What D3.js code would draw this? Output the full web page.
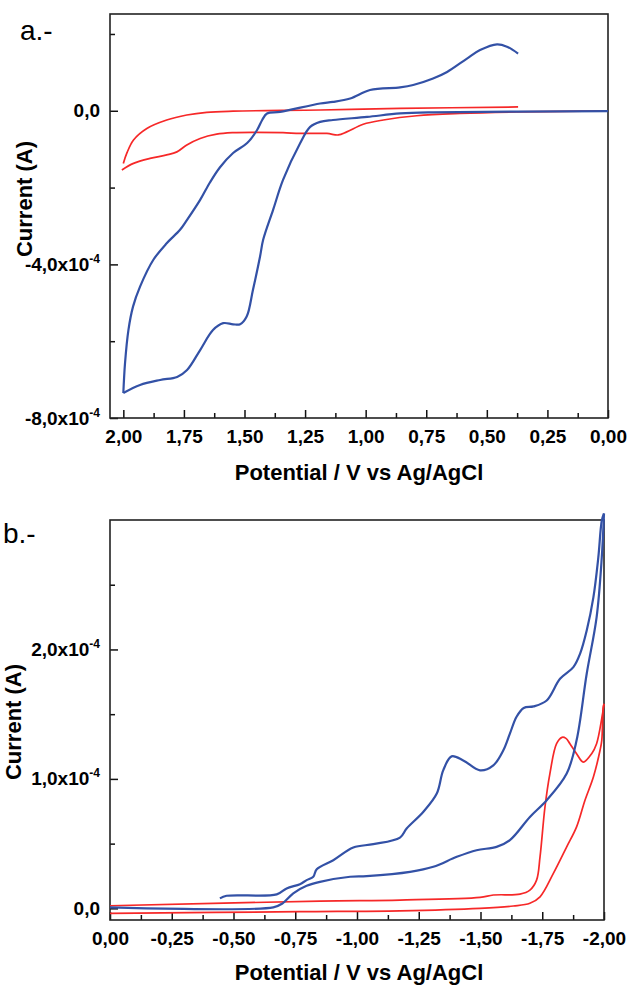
<!DOCTYPE html>
<html>
<head>
<meta charset="utf-8">
<script src="https://cdn.jsdelivr.net/npm/d3@7"></script>
<style>
  body { margin: 0; background: #fff; }
  text { font-family: "Liberation Sans", Arial, sans-serif; }
</style>
</head>
<body>
<script>
// currents are in units of 1e-4 A, potentials in V

// panel a: blue CV, forward scan (0 -> 2.0 V) then reverse (2.0 -> 0.37 V)
var aBlueFwd = [
  [0.000, -0.01], [0.722, -0.04], [0.858, -0.07], [0.994, -0.16], [1.135, -0.24],
  [1.188, -0.29], [1.229, -0.42], [1.271, -0.85], [1.341, -1.80], [1.382, -2.58],
  [1.423, -3.36], [1.436, -3.80], [1.465, -4.66], [1.491, -5.36], [1.518, -5.56],
  [1.547, -5.56], [1.588, -5.53], [1.630, -5.71], [1.683, -6.23], [1.737, -6.75],
  [1.778, -6.93], [1.848, -7.01], [1.931, -7.14], [2.000, -7.35]
]
var aBlueRev = [
  [2.000, -7.35], [1.993, -6.57], [1.979, -5.71], [1.960, -5.10], [1.931, -4.58],
  [1.876, -3.88], [1.821, -3.45], [1.766, -3.10], [1.737, -2.84], [1.683, -2.32],
  [1.642, -1.86], [1.601, -1.47], [1.547, -1.10], [1.489, -0.84], [1.448, -0.50],
  [1.427, -0.24], [1.407, -0.07], [1.353, -0.03], [1.188, 0.19], [1.135, 0.23],
  [1.064, 0.32], [0.982, 0.54], [0.858, 0.61], [0.804, 0.67], [0.722, 0.84],
  [0.664, 1.01], [0.582, 1.36], [0.528, 1.58], [0.458, 1.73], [0.417, 1.67],
  [0.371, 1.49]
]
// panel a: red CV
var aRedFwd = [
  [0.020, 0.00], [0.103, -0.01], [0.377, -0.03], [0.611, -0.07], [0.789, -0.13],
  [0.927, -0.24], [1.010, -0.35], [1.078, -0.55], [1.113, -0.63], [1.160, -0.59],
  [1.271, -0.59], [1.341, -0.57], [1.465, -0.56], [1.547, -0.57], [1.615, -0.61],
  [1.683, -0.72], [1.738, -0.89], [1.779, -1.07], [1.821, -1.15], [1.890, -1.24],
  [1.958, -1.37], [2.006, -1.54]
]
var aRedRev = [
  [2.000, -1.37], [1.986, -1.11], [1.958, -0.76], [1.903, -0.46], [1.821, -0.24],
  [1.738, -0.11], [1.656, -0.04], [1.547, -0.01], [1.188, 0.02], [0.858, 0.06],
  [0.371, 0.10]
]

// panel b: blue CV, forward (-0.45 -> -2.0 V) then reverse (-2.0 -> 0 V)
var bBlueFwd = [
  [-0.445, 0.077], [-0.472, 0.097], [-0.675, 0.108], [-0.715, 0.154], [-0.769, 0.187],
  [-0.796, 0.218], [-0.823, 0.244], [-0.837, 0.303], [-0.904, 0.372], [-0.985, 0.470],
  [-1.066, 0.496], [-1.174, 0.547], [-1.201, 0.617], [-1.268, 0.745], [-1.323, 0.887],
  [-1.349, 1.066], [-1.383, 1.174], [-1.430, 1.143], [-1.498, 1.066], [-1.552, 1.105],
  [-1.592, 1.220], [-1.619, 1.350], [-1.646, 1.480], [-1.675, 1.548], [-1.715, 1.560],
  [-1.768, 1.606], [-1.822, 1.773], [-1.876, 1.863], [-1.903, 1.966], [-1.930, 2.146],
  [-1.957, 2.402], [-1.977, 2.711], [-1.991, 2.994], [-2.000, 3.05]
]
var bBlueRev = [
  [-2.000, 3.05], [-1.991, 2.711], [-1.970, 2.248], [-1.930, 1.812], [-1.889, 1.298],
  [-1.849, 1.041], [-1.768, 0.835], [-1.700, 0.706], [-1.619, 0.527], [-1.565, 0.475],
  [-1.484, 0.449], [-1.404, 0.398], [-1.309, 0.321], [-1.215, 0.282], [-1.039, 0.249],
  [-0.972, 0.244], [-0.850, 0.205], [-0.796, 0.174], [-0.742, 0.116], [-0.699, 0.039],
  [-0.661, 0.008], [0.000, 0.008]
]
// panel b: red CV
var bRedFwd = [
  [0.000, 0.020], [-0.850, 0.056], [-1.174, 0.064], [-1.498, 0.085], [-1.552, 0.103],
  [-1.660, 0.110], [-1.700, 0.141], [-1.727, 0.218], [-1.741, 0.398], [-1.761, 0.783],
  [-1.781, 1.041], [-1.808, 1.272], [-1.830, 1.321], [-1.846, 1.313], [-1.862, 1.272],
  [-1.889, 1.195], [-1.916, 1.130], [-1.950, 1.195], [-1.970, 1.272], [-1.991, 1.467],
  [-2.000, 1.58]
]
var bRedRev = [
  [-2.000, 1.58], [-1.997, 1.554], [-1.991, 1.298], [-1.984, 1.221], [-1.957, 1.015],
  [-1.923, 0.835], [-1.889, 0.629], [-1.849, 0.475], [-1.795, 0.270], [-1.741, 0.089],
  [-1.700, 0.039], [-1.633, 0.018], [-1.498, 0.000], [-1.174, -0.019], [-0.769, -0.026],
  [0.000, -0.039]
]

// ticks
var aXTicks = [2.00, 1.75, 1.50, 1.25, 1.00, 0.75, 0.50, 0.25, 0.00]
var aXMinor = [1.875, 1.625, 1.375, 1.125, 0.875, 0.625, 0.375, 0.125]
var aYTicks = [0, -4, -8]
var aYMinor = [2, -2, -6]
var bXTicks = [0.00, -0.25, -0.50, -0.75, -1.00, -1.25, -1.50, -1.75, -2.00]
var bXMinor = [-0.125, -0.375, -0.625, -0.875, -1.125, -1.375, -1.625, -1.875]
var bYTicks = [0, 1, 2]
var bYMinor = [0.5, 1.5, 2.5]

var blue = "#3351a6"
var red = "#f62828"

var svg = d3.select("body").append("svg")
  .attr("width", 630)
  .attr("height", 985)

function xLabel(v) {
  return v.toFixed(2).replace(".", ",")
}

function drawPanel(p) {
  var x = d3.scaleLinear().domain(p.xDomain).range([p.left, p.right])
  var y = d3.scaleLinear().domain(p.yDomain).range([p.bottom, p.top])
  var g = svg.append("g")

  // x axis: minor then major ticks, drawn inward
  g.append("g")
    .attr("transform", "translate(0," + p.bottom + ")")
    .call(d3.axisBottom(x).tickValues(p.xMinor).tickSize(-5).tickFormat(""))
    .call(function(s) { s.select(".domain").remove() })
  var gx = g.append("g")
    .attr("transform", "translate(0," + p.bottom + ")")
    .call(d3.axisBottom(x).tickValues(p.xTicks).tickSize(-8).tickPadding(12).tickFormat(xLabel))
    .call(function(s) { s.select(".domain").remove() })
  gx.selectAll("text")
    .attr("font-family", "Liberation Sans, Arial, sans-serif")
    .attr("font-size", 19).attr("font-weight", "bold").attr("fill", "#000")

  // y axis
  g.append("g")
    .attr("transform", "translate(" + p.left + ",0)")
    .call(d3.axisLeft(y).tickValues(p.yMinor).tickSize(-5).tickFormat(""))
    .call(function(s) { s.select(".domain").remove() })
  var gy = g.append("g")
    .attr("transform", "translate(" + p.left + ",0)")
    .call(d3.axisLeft(y).tickValues(p.yTicks).tickSize(-8).tickPadding(10).tickFormat(""))
    .call(function(s) { s.select(".domain").remove() })
  gy.selectAll("text").each(function(d) {
    var t = d3.select(this)
      .attr("font-family", "Liberation Sans, Arial, sans-serif")
      .attr("font-size", 19).attr("font-weight", "bold").attr("fill", "#000")
    if (d === 0) {
      t.text("0,0")
    } else {
      t.append("tspan").text((d < 0 ? "-" : "") + Math.abs(d).toFixed(1).replace(".", ",") + "x10")
      t.append("tspan").attr("font-size", 12).attr("dy", "-8").text("-4")
    }
  })
  g.selectAll(".tick line").attr("stroke", "#111").attr("stroke-width", 1.5)

  // frame
  g.append("rect")
    .attr("x", p.left).attr("y", p.top)
    .attr("width", p.right - p.left).attr("height", p.bottom - p.top)
    .attr("fill", "none").attr("stroke", "#222").attr("stroke-width", 1.6)

  var line = d3.line()
    .x(function(d) { return x(d[0]) })
    .y(function(d) { return y(d[1]) })
    .curve(d3.curveCatmullRom.alpha(0.5))

  p.series.forEach(function(s) {
    g.append("path")
      .datum(s.data)
      .attr("fill", "none")
      .attr("stroke", s.color)
      .attr("stroke-width", s.width)
      .attr("stroke-linejoin", "round")
      .attr("d", line)
  })

  // titles
  g.append("text")
    .attr("x", p.xTitleX).attr("y", p.xTitleY)
    .attr("text-anchor", "middle")
    .attr("font-size", 22).attr("font-weight", "bold")
    .text("Potential / V vs Ag/AgCl")
  g.append("text")
    .attr("transform", "translate(" + p.yTitleX + "," + p.yTitleY + ") rotate(-90)")
    .attr("text-anchor", "middle")
    .attr("font-size", 22).attr("font-weight", "bold")
    .text("Current (A)")
  g.append("text")
    .attr("x", p.tagX).attr("y", p.tagY)
    .attr("font-size", 28)
    .text(p.tag)
}

drawPanel({
  left: 110, right: 608, top: 14, bottom: 418,
  xDomain: [2.055, 0], yDomain: [-8, 2.52],
  xTicks: aXTicks, xMinor: aXMinor, yTicks: aYTicks, yMinor: aYMinor,
  xTitleX: 359, xTitleY: 480, yTitleX: 32, yTitleY: 199,
  tag: "a.-", tagX: 20, tagY: 40,
  series: [
    {data: aRedFwd, color: red, width: 1.7},
    {data: aRedRev, color: red, width: 1.7},
    {data: aBlueFwd, color: blue, width: 2.2},
    {data: aBlueRev, color: blue, width: 2.2}
  ]
})

drawPanel({
  left: 110, right: 604, top: 520, bottom: 920,
  xDomain: [0, -2], yDomain: [-0.09, 3.0],
  xTicks: bXTicks, xMinor: bXMinor, yTicks: bYTicks, yMinor: bYMinor,
  xTitleX: 359, xTitleY: 980, yTitleX: 21, yTitleY: 722,
  tag: "b.-", tagX: 3, tagY: 543,
  series: [
    {data: bRedFwd, color: red, width: 1.7},
    {data: bRedRev, color: red, width: 1.7},
    {data: bBlueFwd, color: blue, width: 2.2},
    {data: bBlueRev, color: blue, width: 2.2}
  ]
})
</script>
</body>
</html>
